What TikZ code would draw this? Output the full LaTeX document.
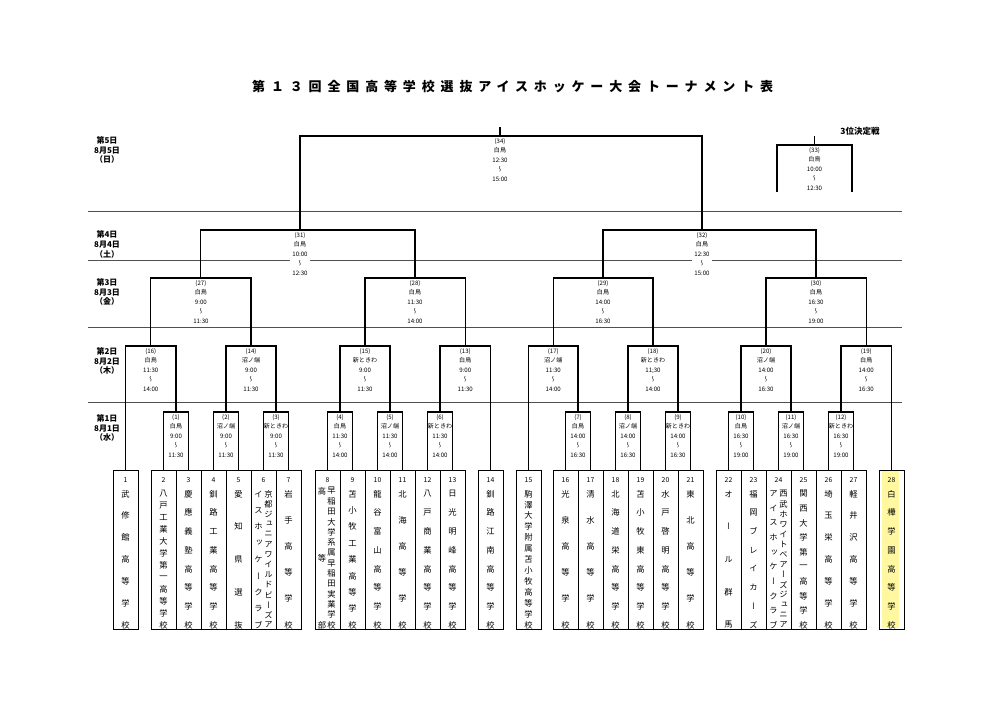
\documentclass[tikz,border=0pt]{standalone}
\usepackage{fontspec}
\setmainfont{Noto Sans CJK JP}
\newfontfamily\vjp[RawFeature=+vert]{Noto Sans CJK JP}
\definecolor{hl}{RGB}{255,248,160}
\definecolor{sepc}{RGB}{80,80,80}
\newcommand\wv{{\vjp ～}}
\tikzset{
 br/.style={line width=1.1pt},
 sepline/.style={line width=0.8pt, draw=sepc},
 tbox/.style={draw, line width=0.8pt, minimum width=25pt, minimum height=159pt, inner sep=0pt, outer sep=0pt},
 lab/.style={anchor=north, align=center, inner sep=0pt, font=\fontsize{6.1}{9.6}\selectfont},
 vch/.style={inner sep=0pt, font=\vjp\fontsize{8.3}{8.3}\selectfont},
 tnum/.style={inner sep=0pt, font=\fontsize{6.8}{6.8}\selectfont},
 daylab/.style={align=center, inner sep=0pt, font=\bfseries\fontsize{8}{9.6}\selectfont},
}
\newcommand\vcol[5]{%
 \foreach \vc [count=\i] in {#4} {
   \pgfmathsetmacro\yy{#5+(\i-1)*(625-#5)/(#3-1)}
   \node[vch] (#1c\i) at (#2,\yy) {\vc};
 }}
\newcommand\team[2]{%
 \node[tbox] (t#1) at (#2,549.5) {};
 \node[tnum] (n#1) at (#2,480) {#1};}
\newcommand\match[5][]{%
 \coordinate (m#2) at (#3,#4);
 \node[lab,#1] (l#2) at (#3,#4+2) {#5};}
\begin{document}
\begin{tikzpicture}[x=1pt,y=-1pt]
\useasboundingbox (0,0) rectangle (1000,706);
\fill[white] (0,0) rectangle (1000,706);
% title
\node[anchor=west, inner sep=0pt, font=\bfseries\fontsize{13}{13}\selectfont\addfontfeature{LetterSpace=45}] (title) at (252,87) {第１３回全国高等学校選抜アイスホッケー大会トーナメント表};
% separators
\draw[sepline] (88,211) -- (902,211);
\draw[sepline] (88,260) -- (902,260);
\draw[sepline] (88,327) -- (902,327);
\draw[sepline] (88,402) -- (902,402);
% day labels
\node[daylab] (d5) at (107,150) {第5日\\8月5日\\（日）};
\node[daylab] (d4) at (107,244.5) {第4日\\8月4日\\（土）};
\node[daylab] (d3) at (107,292) {第3日\\8月3日\\（金）};
\node[daylab] (d2) at (107,361) {第2日\\8月2日\\（木）};
\node[daylab] (d1) at (107,428) {第1日\\8月1日\\（水）};
% highlight
\fill[hl] (881.5,471) rectangle (899,628);
% team boxes
\team{1}{125.5}
\team{2}{163.5}\team{3}{188.5}\team{4}{213.5}\team{5}{238.5}\team{6}{263.5}\team{7}{288.5}
\team{8}{327.5}\team{9}{352.5}\team{10}{377.5}\team{11}{402.5}\team{12}{427.5}\team{13}{452.5}
\team{14}{490.5}
\team{15}{528.5}
\team{16}{565.5}\team{17}{590.5}\team{18}{615.5}\team{19}{640.5}\team{20}{665.5}\team{21}{690.5}
\team{22}{728.5}\team{23}{753.5}\team{24}{778.5}\team{25}{803.5}\team{26}{828.5}\team{27}{853.5}
\team{28}{891.5}
% team names
\vcol{t1}{125.5}{7}{武,修,館,高,等,学,校}{494}
\vcol{t2}{163.5}{12}{八,戸,工,業,大,学,第,一,高,等,学,校}{494}
\vcol{t3}{188.5}{8}{慶,應,義,塾,高,等,学,校}{494}
\vcol{t4}{213.5}{8}{釧,路,工,業,高,等,学,校}{494}
\vcol{t5}{238.5}{5}{愛,知,県,選,抜}{494}
\vcol{t6R}{268.5}{14}{京,都,ジ,ュ,ニ,ア,ワ,イ,ル,ド,ビ,ー,ズ,ア}{494}
\vcol{t6L}{258.5}{9}{イ,ス,ホ,ッ,ケ,ー,ク,ラ,ブ}{494}
\vcol{t7}{288.5}{6}{岩,手,高,等,学,校}{494}
\vcol{t8R}{331.5}{14}{早,稲,田,大,学,系,属,早,稲,田,実,業,学,校}{491}
\vcol{t8L}{322}{3}{高,等,部}{491}
\vcol{t9}{352.5}{9}{苫,小,牧,工,業,高,等,学,校}{494}
\vcol{t10}{377.5}{8}{龍,谷,富,山,高,等,学,校}{494}
\vcol{t11}{402.5}{6}{北,海,高,等,学,校}{494}
\vcol{t12}{427.5}{8}{八,戸,商,業,高,等,学,校}{494}
\vcol{t13}{452.5}{8}{日,光,明,峰,高,等,学,校}{494}
\vcol{t14}{490.5}{8}{釧,路,江,南,高,等,学,校}{494}
\vcol{t15}{528.5}{13}{駒,澤,大,学,附,属,苫,小,牧,高,等,学,校}{494}
\vcol{t16}{565.5}{6}{光,泉,高,等,学,校}{494}
\vcol{t17}{590.5}{6}{清,水,高,等,学,校}{494}
\vcol{t18}{615.5}{8}{北,海,道,栄,高,等,学,校}{494}
\vcol{t19}{640.5}{8}{苫,小,牧,東,高,等,学,校}{494}
\vcol{t20}{665.5}{8}{水,戸,啓,明,高,等,学,校}{494}
\vcol{t21}{690.5}{6}{東,北,高,等,学,校}{494}
\vcol{t22}{728.5}{5}{オ,ー,ル,群,馬}{494}
\vcol{t23}{753.5}{8}{福,岡,ブ,レ,イ,カ,ー,ズ}{494}
\vcol{t24R}{783.5}{14}{西,武,ホ,ワ,イ,ト,ベ,ア,ー,ズ,ジ,ュ,ニ,ア}{494}
\vcol{t24L}{773.5}{10}{ア,イ,ス,ホ,ッ,ケ,ー,ク,ラ,ブ}{494}
\vcol{t25}{803.5}{10}{関,西,大,学,第,一,高,等,学,校}{494}
\vcol{t26}{828.5}{7}{埼,玉,栄,高,等,学,校}{494}
\vcol{t27}{853.5}{7}{軽,井,沢,高,等,学,校}{494}
\vcol{t28}{891.5}{8}{白,樺,学,園,高,等,学,校}{494}
% matches: day 1
\match{1}{176}{412}{(1)\\白鳥\\9:00\\\wv\\11:30}
\match{2}{226}{412}{(2)\\沼ノ端\\9:00\\\wv\\11:30}
\match{3}{276}{412}{(3)\\新ときわ\\9:00\\\wv\\11:30}
\match{4}{340}{412}{(4)\\白鳥\\11:30\\\wv\\14:00}
\match{5}{390}{412}{(5)\\沼ノ端\\11:30\\\wv\\14:00}
\match{6}{440}{412}{(6)\\新ときわ\\11:30\\\wv\\14:00}
\match{7}{578}{412}{(7)\\白鳥\\14:00\\\wv\\16:30}
\match{8}{628}{412}{(8)\\沼ノ端\\14:00\\\wv\\16:30}
\match{9}{678}{412}{(9)\\新ときわ\\14:00\\\wv\\16:30}
\match{10}{741}{412}{(10)\\白鳥\\16:30\\\wv\\19:00}
\match{11}{791}{412}{(11)\\沼ノ端\\16:30\\\wv\\19:00}
\match{12}{841}{412}{(12)\\新ときわ\\16:30\\\wv\\19:00}
% day 2
\match{16}{150.75}{346}{(16)\\白鳥\\11:30\\\wv\\14:00}
\match{14}{251}{346}{(14)\\沼ノ端\\9:00\\\wv\\11:30}
\match{15}{365}{346}{(15)\\新ときわ\\9:00\\\wv\\11:30}
\match{13}{465.25}{346}{(13)\\白鳥\\9:00\\\wv\\11:30}
\match{17}{553.25}{346}{(17)\\沼ノ端\\11:30\\\wv\\14:00}
\match{18}{653}{346}{(18)\\新ときわ\\11;30\\\wv\\14:00}
\match{20}{766}{346}{(20)\\沼ノ端\\14:00\\\wv\\16:30}
\match{19}{866.25}{346}{(19)\\白鳥\\14:00\\\wv\\16:30}
% day 3
\match{27}{200.9}{278}{(27)\\白鳥\\9:00\\\wv\\11:30}
\match{28}{415}{278}{(28)\\白鳥\\11:30\\\wv\\14:00}
\match{29}{603}{278}{(29)\\白鳥\\14:00\\\wv\\16:30}
\match{30}{816}{278}{(30)\\白鳥\\16:30\\\wv\\19:00}
% day 4
\match[fill=white,inner xsep=2pt]{31}{300}{230}{(31)\\白鳥\\10:00\\\wv\\12:30}
\match[fill=white,inner xsep=2pt]{32}{702}{230}{(32)\\白鳥\\12:30\\\wv\\15:00}
% day 5
\match{34}{500}{136}{(34)\\白鳥\\12:30\\\wv\\15:00}
\coordinate (m34up) at (500,127);
\match{33}{814.5}{145}{(33)\\白鳥\\10:00\\\wv\\12:30}
\coordinate (m33up) at (814.5,136);
\coordinate (q33L) at (777,192);
\coordinate (q33R) at (852,192);
\node[inner sep=0pt, font=\bfseries\fontsize{8.5}{8.5}\selectfont] (third) at (860,131) {3位決定戦};
% brackets day 1
\draw[br] (t2.north) |- (m1) -| (t3.north);
\draw[br] (t4.north) |- (m2) -| (t5.north);
\draw[br] (t6.north) |- (m3) -| (t7.north);
\draw[br] (t8.north) |- (m4) -| (t9.north);
\draw[br] (t10.north) |- (m5) -| (t11.north);
\draw[br] (t12.north) |- (m6) -| (t13.north);
\draw[br] (t16.north) |- (m7) -| (t17.north);
\draw[br] (t18.north) |- (m8) -| (t19.north);
\draw[br] (t20.north) |- (m9) -| (t21.north);
\draw[br] (t22.north) |- (m10) -| (t23.north);
\draw[br] (t24.north) |- (m11) -| (t25.north);
\draw[br] (t26.north) |- (m12) -| (t27.north);
% day 2
\draw[br] (t1.north) |- (m16) -| (m1);
\draw[br] (m2) |- (m14) -| (m3);
\draw[br] (m4) |- (m15) -| (m5);
\draw[br] (m6) |- (m13) -| (t14.north);
\draw[br] (t15.north) |- (m17) -| (m7);
\draw[br] (m8) |- (m18) -| (m9);
\draw[br] (m10) |- (m20) -| (m11);
\draw[br] (m12) |- (m19) -| (t28.north);
% day 3
\draw[br] (m16) |- (m27) -| (m14);
\draw[br] (m15) |- (m28) -| (m13);
\draw[br] (m17) |- (m29) -| (m18);
\draw[br] (m20) |- (m30) -| (m19);
% day 4
\draw[br] (m27) |- (m31) -| (m28);
\draw[br] (m29) |- (m32) -| (m30);
% day 5
\draw[br] (m31) |- (m34) -| (m32);
\draw[br] (m34) -- (m34up);
\draw[br] (q33L) |- (m33) -| (q33R);
\draw[br] (m33) -- (m33up);
\end{tikzpicture}
\end{document}
